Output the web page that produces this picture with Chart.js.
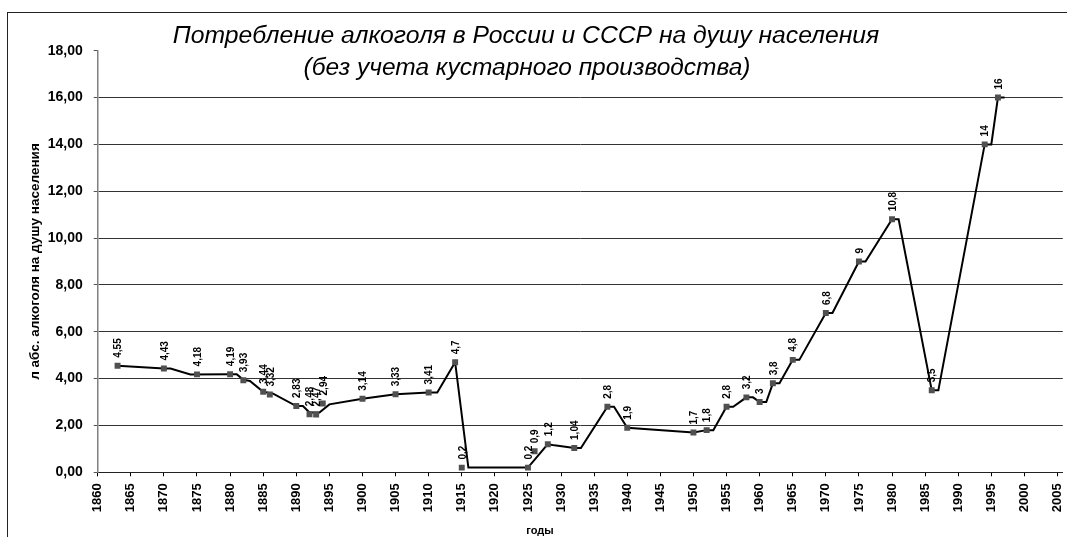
<!DOCTYPE html>
<html><head><meta charset="utf-8">
<script src="https://cdn.jsdelivr.net/npm/chart.js@4/dist/chart.umd.min.js"></script>
<style>html,body{margin:0;padding:0;background:#fff;}canvas{display:block;}</style>
</head><body>
<canvas id="c" width="1067" height="537"></canvas>
<script>
const titleLines = ["Потребление алкоголя в России и СССР на душу населения", "(без учета кустарного производства)"];
const yAxisTitle = "л абс. алкоголя на душу населения";
const xAxisTitle = "годы";

const markerYears  = [1863,1870,1875,1880,1882,1885,1886,1890,1892,1893,1894,1900,1905,1910,1914,1915,1925,1926,1928,1932,1937,1940,1950,1952,1955,1958,1960,1962,1965,1970,1975,1980,1986,1994,1996];
const markerValues = [4.55,4.43,4.18,4.19,3.93,3.44,3.32,2.83,2.48,2.47,2.94,3.14,3.33,3.41,4.7,0.2,0.2,0.9,1.2,1.04,2.8,1.9,1.7,1.8,2.8,3.2,3,3.8,4.8,6.8,9,10.8,3.5,14,16];

const lineYears  = [1863,1870,1871,1874,1880,1881,1882,1883,1885,1886.5,1890,1891,1892,1893.5,1895,1900,1905,1910,1911.3,1914,1916,1925,1928,1929,1932,1933,1937,1938,1940,1950,1952,1953,1955,1956,1958,1959,1960,1961,1962,1963,1965,1966,1970,1971,1975,1976,1980,1981,1986,1987,1994,1995,1996,1997];
const lineValues = [4.55,4.43,4.43,4.18,4.19,4.19,3.95,3.9,3.44,3.36,2.83,2.83,2.55,2.55,2.9,3.14,3.33,3.41,3.41,4.7,0.2,0.2,1.2,1.15,1.04,1.04,2.8,2.8,1.9,1.7,1.8,1.8,2.8,2.8,3.2,3.2,3.0,3.0,3.8,3.8,4.8,4.8,6.8,6.8,9,9,10.8,10.8,3.5,3.5,14,14,16,16];

const xTickYears = [1860,1865,1870,1875,1880,1885,1890,1895,1900,1905,1910,1915,1920,1925,1930,1935,1940,1945,1950,1955,1960,1965,1970,1975,1980,1985,1990,1995,2000,2005];
const yTickValues = [0,2,4,6,8,10,12,14,16,18];

const markerLabels = markerValues.map(v => String(v).replace('.', ','));
const FONT = '"Liberation Sans", Arial, sans-serif';

const framePlugin = {
  id: 'frame',
  beforeDraw(chart) {
    const ctx = chart.ctx;
    ctx.save();
    ctx.fillStyle = '#fff';
    ctx.fillRect(0, 0, chart.width, chart.height);
    ctx.strokeStyle = '#222';
    ctx.lineWidth = 1;
    ctx.strokeRect(7.5, 12.5, chart.width + 40, chart.height + 40);
    ctx.restore();
  },
  afterDraw(chart) {
    const ctx = chart.ctx;
    ctx.save();
    ctx.fillStyle = '#000';
    ctx.textAlign = 'center';
    ctx.textBaseline = 'alphabetic';
    ctx.font = 'italic 24.7px ' + FONT;
    ctx.fillText(titleLines[0], 526, 43);
    ctx.font = 'italic 24.5px ' + FONT;
    ctx.fillText(titleLines[1], 527, 75);
    ctx.font = 'bold 11px ' + FONT;
    ctx.textBaseline = 'middle';
    ctx.fillText(xAxisTitle, 540, 531);
    ctx.restore();
  }
};

const labelPlugin = {
  id: 'pointLabels',
  afterDatasetsDraw(chart) {
    const meta = chart.getDatasetMeta(0);
    const ctx = chart.ctx;
    ctx.save();
    ctx.fillStyle = '#000';
    ctx.font = 'bold 10px ' + FONT;
    ctx.textAlign = 'left';
    ctx.textBaseline = 'middle';
    meta.data.forEach((pt, i) => {
      ctx.save();
      ctx.translate(pt.x + 1, pt.y - 8);
      ctx.rotate(-Math.PI / 2);
      ctx.fillText(markerLabels[i], 0, 0);
      ctx.restore();
    });
    ctx.restore();
  }
};

new Chart(document.getElementById('c'), {
  type: 'scatter',
  data: {
    datasets: [
      {
        label: 'markers',
        data: markerYears.map((x, i) => ({x: x, y: markerValues[i]})),
        showLine: false,
        pointStyle: 'rect',
        pointRadius: 4.2,
        pointBorderWidth: 0,
        backgroundColor: '#505050',
        borderColor: '#505050'
      },
      {
        label: 'line',
        data: lineYears.map((x, i) => ({x: x, y: lineValues[i]})),
        showLine: true,
        borderColor: '#000',
        borderWidth: 2,
        pointRadius: 0,
        tension: 0,
        fill: false
      }
    ]
  },
  options: {
    responsive: false,
    devicePixelRatio: 1,
    animation: false,
    layout: { padding: { left: 0, right: 0, top: 50.7, bottom: 0 } },
    plugins: { legend: { display: false }, tooltip: { enabled: false }, title: { display: false } },
    scales: {
      x: {
        type: 'linear', min: 1860, max: 2005.8,
        afterBuildTicks: s => { s.ticks = xTickYears.map(v => ({value: v})); },
        afterFit: s => { s.height = 64.7; s.paddingLeft = 0; s.paddingRight = 0; },
        grid: { drawOnChartArea: false, drawTicks: true, tickLength: 4, tickColor: '#000', color: '#000' },
        border: { display: true, color: '#222', width: 1 },
        ticks: { autoSkip: false, minRotation: 90, maxRotation: 90, padding: 7, color: '#000',
                 font: { family: FONT, size: 13, weight: 'bold' }, callback: v => String(v) }
      },
      y: {
        min: 0, max: 18,
        afterBuildTicks: s => { s.ticks = yTickValues.map(v => ({value: v})); },
        afterFit: s => { s.width = 97.7; },
        grid: { color: c => (c.tick && (c.tick.value === 18 || c.tick.value === 0)) ? 'rgba(0,0,0,0)' : '#333',
                tickColor: '#555', tickLength: 4, lineWidth: 1 },
        border: { color: '#808080', width: 1.5 },
        ticks: { padding: 11, color: '#000', font: { family: FONT, size: 14, weight: 'bold' },
                 callback: v => Number(v).toFixed(2).replace('.', ',') },
        title: { display: true, text: yAxisTitle, color: '#000', font: { family: FONT, size: 13.5, weight: 'bold' },
                 padding: { top: 27, bottom: 0 } }
      }
    }
  },
  plugins: [framePlugin, labelPlugin]
});
</script>
</body></html>
